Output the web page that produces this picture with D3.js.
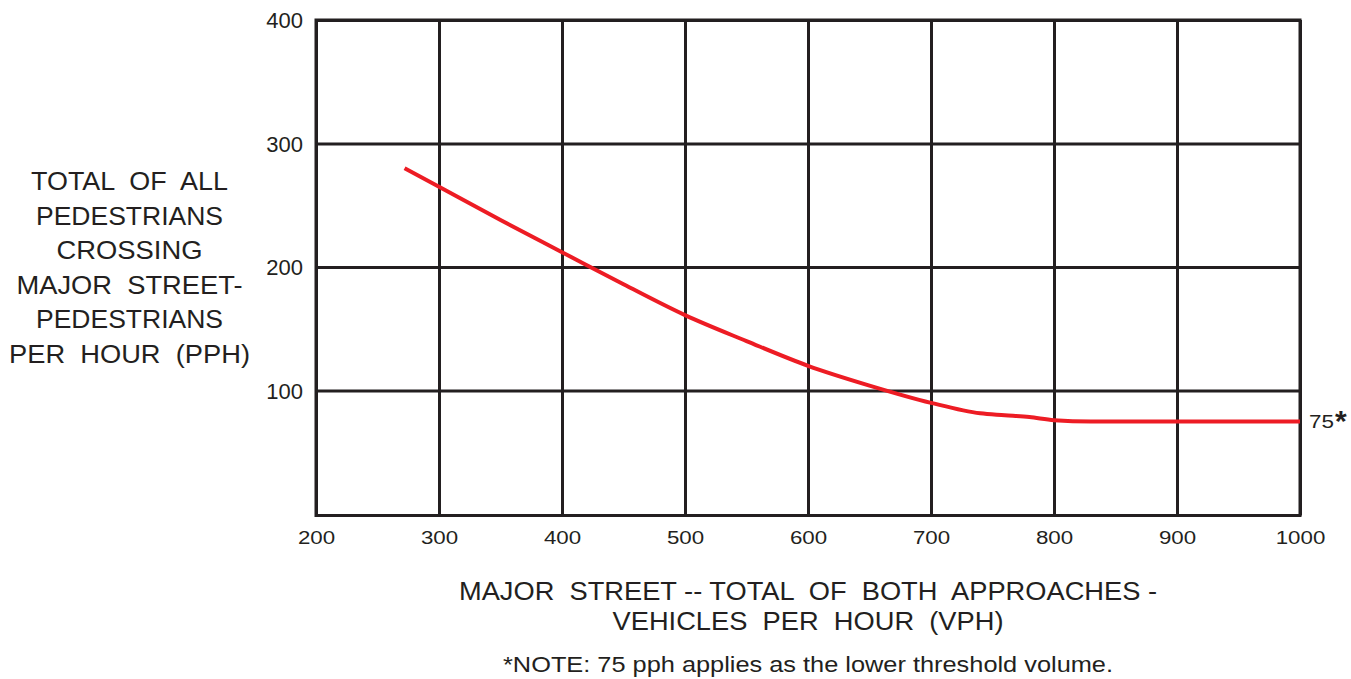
<!DOCTYPE html>
<html><head><meta charset="utf-8">
<script src="https://cdn.jsdelivr.net/npm/d3@7"></script>
<style>
body{margin:0;background:#fff;}
text{font-family:"Liberation Sans",Arial,Helvetica,sans-serif;fill:#231f20;white-space:pre;}
</style></head>
<body><svg id="c" width="1351" height="679"></svg>
<script>
const xTicks = [200,300,400,500,600,700,800,900,1000];
const yTicks = [100,200,300,400];
const curveX = [272,300,350,400,450,500,550,600,650,700,740,760,780,800,830,900,1000];
const curveY = [280,265,238,212,186,161,140,120,104,90,81.5,80,78.5,76,75,75,75];
const thresholdLabel = "75";
const yTitle = ["TOTAL  OF  ALL","PEDESTRIANS","CROSSING","MAJOR  STREET-","PEDESTRIANS","PER  HOUR  (PPH)"];
const xTitle = ["MAJOR  STREET -- TOTAL  OF  BOTH  APPROACHES -","VEHICLES  PER  HOUR  (VPH)"];
const note = "*NOTE: 75 pph applies as the lower threshold volume.";

const svg = d3.select("#c");
const L=316,R=1300,T=20,B=514;
const x = d3.scaleLinear().domain([200,1000]).range([L,R]);
const y = d3.scaleLinear().domain([0,400]).range([B,T]);
const ink="#231f20";

// grid via axes
const gx = svg.append("g").attr("transform",`translate(0,${B+1.5})`)
  .call(d3.axisBottom(x).tickValues(xTicks).tickSize(-(B+1.5-T)).tickPadding(14).tickFormat(d3.format("d")));
gx.select(".domain").remove();
gx.selectAll(".tick line").attr("stroke",ink).attr("stroke-width",3);
gx.selectAll(".tick text").attr("font-size",18).attr("fill",ink)
  .attr("textLength",d=>String(d).length*12.4).attr("lengthAdjust","spacingAndGlyphs")
  .attr("y",16).attr("dy","0.71em");

const gy = svg.append("g").attr("transform",`translate(${L},0)`)
  .call(d3.axisLeft(y).tickValues(yTicks).tickSize(-(R-L)).tickPadding(13).tickFormat(d3.format("d")));
gy.select(".domain").remove();
gy.selectAll(".tick line").attr("stroke",ink).attr("stroke-width",3);
gy.selectAll(".tick text").attr("font-size",22).attr("fill",ink).attr("dy","0.36em");

// frame
svg.append("rect").attr("x",L).attr("y",T).attr("width",R-L).attr("height",B+1.5-T)
  .attr("fill","none").attr("stroke",ink).attr("stroke-width",3);

// curve
const pts = curveX.map((v,i)=>[v,curveY[i]]);
svg.append("path").datum(pts)
  .attr("d",d3.line().x(d=>x(d[0])).y(d=>y(d[1])).curve(d3.curveMonotoneX))
  .attr("fill","none").attr("stroke","#ed1c24").attr("stroke-width",4);

// 75* label
svg.append("text").attr("x",R+9).attr("y",y(75)+7).attr("font-size",18)
  .attr("textLength",25).attr("lengthAdjust","spacingAndGlyphs").text(thresholdLabel);
svg.append("text").attr("x",R+35).attr("y",y(75)+10).attr("font-size",30).attr("font-weight","bold").text("*");

// y title
const yw=[197,187,146,226,187,241];
svg.append("g").selectAll("text").data(yTitle).join("text")
  .attr("x",129.5).attr("y",(d,i)=>190+i*34.6).attr("text-anchor","middle").attr("font-size",25.5)
  .attr("textLength",(d,i)=>yw[i]).attr("lengthAdjust","spacingAndGlyphs").text(d=>d);

// x title
const xw=[698,391];
svg.append("g").selectAll("text").data(xTitle).join("text")
  .attr("x",808).attr("y",(d,i)=>600+i*30).attr("text-anchor","middle").attr("font-size",25)
  .attr("textLength",(d,i)=>xw[i]).attr("lengthAdjust","spacingAndGlyphs").text(d=>d);

svg.append("text").attr("x",808).attr("y",672).attr("text-anchor","middle").attr("font-size",22)
  .attr("textLength",610).attr("lengthAdjust","spacingAndGlyphs").text(note);
</script></body></html>
